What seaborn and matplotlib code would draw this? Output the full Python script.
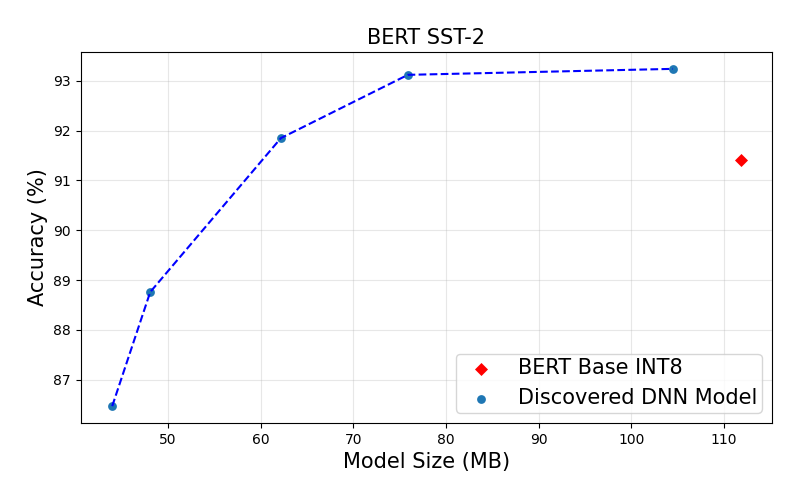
import matplotlib
matplotlib.use("Agg")
import matplotlib.pyplot as plt
import seaborn as sns
import pandas as pd

model_size = [44.0, 48.1, 62.2, 75.9, 104.5]
accuracy = [86.47, 88.76, 91.85, 93.12, 93.24]
base_size = [111.8]
base_acc = [91.41]

plt.rcParams['font.family'] = ['DejaVu Sans']

df = pd.DataFrame({"size": model_size, "acc": accuracy})
dfb = pd.DataFrame({"size": base_size, "acc": base_acc})

fig, ax = plt.subplots(figsize=(8, 5), dpi=100)
sns.scatterplot(data=dfb, x="size", y="acc", ax=ax, color="red", marker="D", s=44, linewidth=0,
                label="BERT Base INT8", zorder=2)
sns.scatterplot(data=df, x="size", y="acc", ax=ax, color="#1f77b4", marker="o", s=40, linewidth=0,
                label="Discovered DNN Model", zorder=2)
sns.lineplot(data=df, x="size", y="acc", ax=ax, color="blue", linestyle="--", linewidth=1.5, zorder=3)

ax.grid(True, alpha=0.3)
ax.set_title("BERT SST-2", fontsize=15)
ax.set_xlabel("Model Size (MB)", fontsize=15)
ax.set_ylabel("Accuracy (%)", fontsize=15)
ax.tick_params(labelsize=10)
ax.legend(loc="lower right", fontsize=15, borderpad=0.2)
fig.subplots_adjust(left=0.101, right=0.965, top=0.896, bottom=0.154)
fig.savefig("out.png", dpi=100)
